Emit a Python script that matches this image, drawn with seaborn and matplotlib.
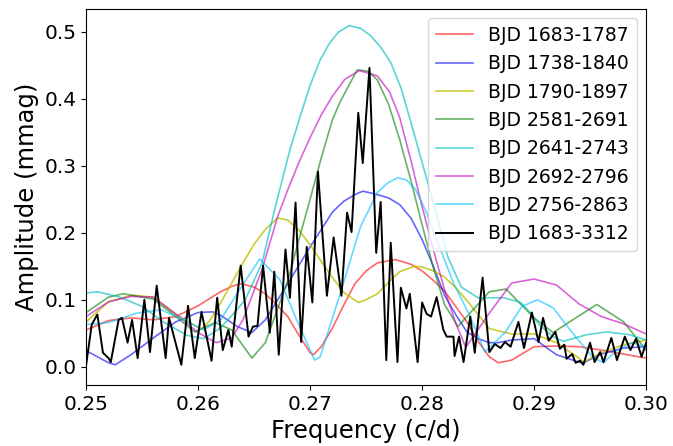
import matplotlib
matplotlib.use("Agg")
import matplotlib.pyplot as plt
import seaborn as sns

# amplitude spectra (mmag) of the segments
red_f = [0.250, 0.252, 0.254, 0.256, 0.258, 0.260, 0.262, 0.263, 0.2638, 0.265, 0.266, 0.267,
         0.268, 0.269, 0.270, 0.2703, 0.271, 0.272, 0.273, 0.274, 0.275, 0.276, 0.2776, 0.279,
         0.280, 0.281, 0.282, 0.283, 0.284, 0.285, 0.286, 0.2868, 0.288, 0.290, 0.292, 0.294,
         0.296, 0.298, 0.300]
red_a = [0.055, 0.069, 0.073, 0.070, 0.075, 0.091, 0.112, 0.120, 0.124, 0.119, 0.109, 0.093,
         0.075, 0.047, 0.021, 0.018, 0.030, 0.058, 0.092, 0.124, 0.143, 0.155, 0.160, 0.153,
         0.143, 0.129, 0.113, 0.090, 0.067, 0.038, 0.015, 0.006, 0.010, 0.030, 0.031, 0.030,
         0.025, 0.019, 0.013]

blue_f = [0.250, 0.252, 0.2526, 0.254, 0.256, 0.258, 0.260, 0.2613, 0.262, 0.2635, 0.2648, 0.266,
          0.268, 0.270, 0.272, 0.273, 0.274, 0.2747, 0.275, 0.276, 0.277, 0.278, 0.279, 0.280,
          0.281, 0.282, 0.283, 0.284, 0.285, 0.286, 0.2868, 0.288, 0.290, 0.292, 0.294, 0.2944,
          0.296, 0.298, 0.300]
blue_a = [0.024, 0.006, 0.003, 0.018, 0.043, 0.067, 0.081, 0.082, 0.077, 0.060, 0.051, 0.070,
          0.124, 0.179, 0.231, 0.247, 0.257, 0.262, 0.261, 0.257, 0.252, 0.242, 0.222, 0.190,
          0.150, 0.107, 0.078, 0.052, 0.042, 0.036, 0.036, 0.040, 0.042, 0.018, 0.007, 0.006,
          0.019, 0.028, 0.030]

yel_f = [0.250, 0.252, 0.2541, 0.256, 0.258, 0.2603, 0.261, 0.262, 0.263, 0.264, 0.265, 0.266,
         0.2671, 0.268, 0.269, 0.270, 0.271, 0.272, 0.273, 0.2743, 0.275, 0.276, 0.277, 0.278,
         0.2793, 0.280, 0.281, 0.282, 0.283, 0.284, 0.285, 0.286, 0.288, 0.290, 0.292, 0.294,
         0.2944, 0.296, 0.298, 0.300]
yel_a = [0.067, 0.097, 0.107, 0.104, 0.078, 0.056, 0.068, 0.095, 0.125, 0.155, 0.183, 0.205,
         0.222, 0.219, 0.204, 0.182, 0.157, 0.133, 0.111, 0.096, 0.100, 0.109, 0.126, 0.142,
         0.150, 0.149, 0.143, 0.134, 0.118, 0.099, 0.078, 0.057, 0.049, 0.049, 0.036, 0.013,
         0.007, 0.021, 0.033, 0.040]

grn_f = [0.250, 0.252, 0.2533, 0.256, 0.258, 0.2597, 0.2615, 0.263, 0.2648, 0.266, 0.268, 0.269,
         0.270, 0.271, 0.272, 0.2727, 0.2742, 0.2752, 0.276, 0.277, 0.278, 0.279, 0.280, 0.281,
         0.282, 0.2832, 0.284, 0.286, 0.2875, 0.290, 0.2917, 0.294, 0.2956, 0.298, 0.300]
grn_a = [0.081, 0.104, 0.109, 0.101, 0.075, 0.052, 0.066, 0.055, 0.013, 0.036, 0.128, 0.190,
         0.250, 0.312, 0.369, 0.396, 0.443, 0.441, 0.428, 0.392, 0.339, 0.278, 0.212, 0.148,
         0.093, 0.060, 0.075, 0.112, 0.116, 0.073, 0.051, 0.076, 0.093, 0.067, 0.025]

cyn_f = [0.250, 0.251, 0.253, 0.255, 0.257, 0.259, 0.2605, 0.262, 0.2633, 0.2642, 0.2657, 0.2669,
         0.2682, 0.2691, 0.2700, 0.2709, 0.2717, 0.2725, 0.2735, 0.2745, 0.2754, 0.2763, 0.2772,
         0.2781, 0.279, 0.2805, 0.2823, 0.2835, 0.285, 0.2873, 0.2888, 0.2897, 0.2905, 0.2917,
         0.2926, 0.2947, 0.2965, 0.2985, 0.300]
cyn_a = [0.110, 0.112, 0.104, 0.090, 0.066, 0.047, 0.042, 0.058, 0.082, 0.100, 0.155, 0.239,
         0.324, 0.373, 0.420, 0.458, 0.482, 0.499, 0.509, 0.505, 0.494, 0.477, 0.454,
         0.417, 0.365, 0.275, 0.164, 0.119, 0.103, 0.103, 0.096, 0.080, 0.062, 0.045,
         0.038, 0.048, 0.052, 0.048, 0.040]

mag_f = [0.250, 0.252, 0.254, 0.256, 0.258, 0.260, 0.2616, 0.263, 0.264, 0.2657, 0.2671, 0.268,
         0.269, 0.270, 0.271, 0.272, 0.2731, 0.2744, 0.276, 0.2771, 0.278, 0.279, 0.280, 0.281,
         0.282, 0.283, 0.2839, 0.286, 0.288, 0.290, 0.292, 0.294, 0.296, 0.298, 0.300]
mag_a = [0.075, 0.097, 0.105, 0.104, 0.079, 0.051, 0.036, 0.043, 0.070, 0.145, 0.224, 0.264,
         0.305, 0.342, 0.376, 0.404, 0.429, 0.442, 0.434, 0.410, 0.372, 0.308, 0.239, 0.175,
         0.115, 0.065, 0.029, 0.080, 0.125, 0.131, 0.122, 0.094, 0.075, 0.064, 0.049]

lbl_f = [0.250, 0.252, 0.2545, 0.2567, 0.2587, 0.2605, 0.262, 0.2637, 0.2655, 0.2673, 0.2688,
         0.2704, 0.2709, 0.2727, 0.2745, 0.276, 0.2769, 0.2778, 0.2786, 0.2794, 0.2804, 0.2813,
         0.2828, 0.2843, 0.2856, 0.2874, 0.2889, 0.2903, 0.2917, 0.2934, 0.2952, 0.2962, 0.2974,
         0.2988, 0.300]
lbl_a = [0.063, 0.066, 0.080, 0.085, 0.070, 0.055, 0.070, 0.115, 0.161, 0.130, 0.070,
         0.010, 0.015, 0.110, 0.209, 0.260, 0.274, 0.282, 0.279, 0.265, 0.230, 0.190,
         0.125, 0.075, 0.022, 0.051, 0.090, 0.100, 0.088, 0.051, 0.015, 0.006, 0.025,
         0.036, 0.030]

# full data set, peaks and troughs
blk_f = [0.2500, 0.2505, 0.2510, 0.2515, 0.2518, 0.2520, 0.2522, 0.2529, 0.2532, 0.2537, 0.2541,
         0.2546, 0.2552, 0.2557, 0.2563, 0.2571, 0.2574, 0.2585, 0.2591, 0.2597, 0.2603, 0.2612,
         0.2617, 0.2622, 0.2627, 0.2630, 0.2638, 0.2645, 0.2649, 0.2653, 0.2658, 0.2664, 0.2668,
         0.2672, 0.2678, 0.2682, 0.2687, 0.2692, 0.2697, 0.2702, 0.2707, 0.2715, 0.2721, 0.2728,
         0.2733, 0.2737, 0.2743, 0.2747, 0.2753, 0.2759, 0.2763, 0.2768, 0.2772, 0.2778, 0.2781,
         0.2786, 0.2789, 0.2796, 0.2800, 0.2804, 0.2808, 0.2813, 0.2819, 0.2822, 0.2828, 0.2829,
         0.2833, 0.2837, 0.2843, 0.2847, 0.2854, 0.2860, 0.2865, 0.2870, 0.2874, 0.2879, 0.2886,
         0.2891, 0.2898, 0.2904, 0.2908, 0.2913, 0.2919, 0.2923, 0.2927, 0.2929, 0.2934, 0.2937,
         0.2941, 0.2944, 0.2950, 0.2954, 0.2959, 0.2962, 0.2969, 0.2974, 0.2981, 0.2986, 0.2991,
         0.2996, 0.3000]
blk_a = [0.003, 0.063, 0.078, 0.021, 0.016, 0.013, 0.007, 0.070, 0.073, 0.036, 0.070,
         0.013, 0.100, 0.022, 0.121, 0.013, 0.073, 0.003, 0.091, 0.013, 0.082, 0.009,
         0.103, 0.025, 0.055, 0.030, 0.151, 0.045, 0.060, 0.061, 0.151, 0.051, 0.142,
         0.018, 0.175, 0.103, 0.245, 0.037, 0.179, 0.096, 0.291, 0.106, 0.193, 0.106,
         0.230, 0.201, 0.379, 0.304, 0.446, 0.170, 0.246, 0.010, 0.185, 0.007, 0.118,
         0.087, 0.109, 0.007, 0.096, 0.079, 0.075, 0.104, 0.055, 0.045, 0.045, 0.016,
         0.045, 0.007, 0.075, 0.021, 0.133, 0.022, 0.034, 0.028, 0.037, 0.030, 0.067,
         0.028, 0.081, 0.037, 0.073, 0.039, 0.052, 0.027, 0.033, 0.012, 0.019, 0.006,
         0.009, 0.003, 0.036, 0.007, 0.022, 0.007, 0.043, 0.010, 0.045, 0.025, 0.042,
         0.015, 0.036]

series = [
    ("BJD 1683-1787", red_f, red_a, "r", 0.6),
    ("BJD 1738-1840", blue_f, blue_a, "b", 0.6),
    ("BJD 1790-1897", yel_f, yel_a, "y", 0.8),
    ("BJD 2581-2691", grn_f, grn_a, "g", 0.6),
    ("BJD 2641-2743", cyn_f, cyn_a, "c", 0.65),
    ("BJD 2692-2796", mag_f, mag_a, "m", 0.6),
    ("BJD 2756-2863", lbl_f, lbl_a, "deepskyblue", 0.6),
]

fig, ax = plt.subplots(figsize=(6.73, 4.46), dpi=100)

for lab, f, a, col, al in series:
    sns.lineplot(x=f, y=a, color=col, alpha=al, lw=1.2, label=lab, ax=ax)
sns.lineplot(x=blk_f, y=blk_a, color="k", lw=1.4, label="BJD 1683-3312", ax=ax)

ax.set_xlim(0.25, 0.30)
ax.set_ylim(-0.027, 0.534)
ax.set_xticks([0.25, 0.26, 0.27, 0.28, 0.29, 0.30])
ax.set_xlabel("Frequency (c/d)", fontsize=17.5)
ax.set_ylabel("Amplitude (mmag)", fontsize=17.5)
ax.tick_params(labelsize=14.5)
ax.legend(loc="upper right", fontsize=13.5)

plt.subplots_adjust(left=0.128, right=0.960, top=0.980, bottom=0.137)
plt.savefig("out.png", dpi=100)
